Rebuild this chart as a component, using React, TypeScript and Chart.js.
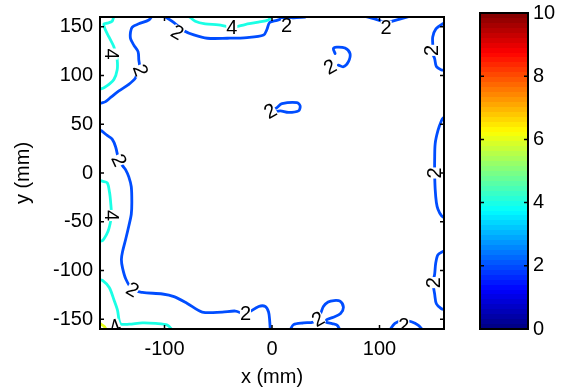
import React, { useEffect, useRef } from "react";
import { Chart, registerables } from "chart.js";

Chart.register(...registerables);

const FONT = "'Liberation Sans', Arial, Helvetica, sans-serif";

// ---- axes ----
const xRange = [-160, 160];
const yRange = [-160, 160];
const xTicks = [-100, 0, 100];
const yTicks = [-150, -100, -50, 0, 50, 100, 150];
const cbRange = [0, 10];
const cbTicks = [0, 2, 4, 6, 8, 10];
const xTitle = "x (mm)";
const yTitle = "y (mm)";

// ---- contour level 4 (cyan) ----
const c4TopLeftX = [-147.1, -148.7, -153.3, -156.3, -155.4, -151.7, -147.1, -145.5, -144.0, -144.0, -147.1, -151.7, -156.3, -158.5, -161];
const c4TopLeftY = [161, 155.7, 153.7, 153.0, 147.9, 139.6, 129.5, 122.8, 116.0, 106.0, 95.9, 90.9, 87.5, 86.5, 86];
const c4TopX = [-77.6, -71.4, -62.1, -49.8, -37.4, -25.0, -12.7, -3.4, -0.4];
const c4TopY = [161, 155.7, 153.0, 152.0, 149.6, 152.3, 154.7, 157.0, 161];
const c4LeftX = [-161, -157.9, -153.3, -151.1, -150.1, -149.4, -151.7, -154.2, -157.7, -161];
const c4LeftY = [-7.5, -8.4, -10.1, -20.1, -30.2, -43.6, -57.1, -63.7, -69.4, -70];
const c4BottomLeftX = [-161, -157.7, -151.4, -146.8, -143.7, -142.2, -140.5, -132.9, -120.5, -108.2, -97.3, -92.7];
const c4BottomLeftY = [-109.5, -110.2, -117.4, -130.8, -140.9, -151.0, -155.0, -155.0, -153.7, -154.3, -156.0, -161];

// ---- contour level 2 (blue) ----
const c2TopLeftX = [-111.6, -114.6, -123.9, -130.1, -131.6, -131.6, -128.5, -124.6, -123.9, -123.3, -127.0, -133.2, -142.4, -150.1, -154.8, -158.5, -161];
const c2TopLeftY = [161, 157.0, 153.0, 149.6, 144.6, 137.9, 131.1, 124.5, 116.0, 109.4, 97.6, 90.9, 84.2, 77.5, 73.2, 71.8, 71];
const c2TopX = [-100.5, -91.2, -81.9, -72.7, -60.2, -41.7, -23.2, -7.8, -4.6, -2.2, 4.6, 8.9, 18.2, 30.6, 32];
const c2TopY = [161, 154.3, 145.9, 141.6, 138.2, 138.2, 138.9, 141.6, 147.6, 154.3, 156.5, 158, 159, 160, 161];
const c2TopRightX = [85.5, 95.5, 103.0, 106.2, 110.0, 118.0, 129.4];
const c2TopRightY = [161, 158, 155, 151, 155, 157.5, 161];
const c2RightUpperX = [161, 158.8, 152.5, 149.5, 149.5, 148.3, 151.3, 152.9, 157.6, 161];
const c2RightUpperY = [153.5, 153, 147.9, 139.6, 129.5, 125.8, 117.4, 109.2, 105.7, 105.4];
const c2RightMidX = [161, 159.2, 157.6, 154.4, 151.8, 151.3, 151.3, 151.8, 152.9, 154.4, 157.6, 161];
const c2RightMidY = [57, 56.4, 53.6, 43.6, 30.2, 13.4, 0, -16.8, -30.2, -37.2, -43.8, -46.5];
const c2RightLowX = [161, 159.0, 154.4, 152.3, 151.3, 149.8, 151.3, 152.9, 157.6, 161];
const c2RightLowY = [-80, -80.5, -83.8, -92.3, -103.9, -112.4, -124.1, -134.1, -139.2, -140];
const c2IslandAX = [58.7, 57.1, 60.2, 67.9, 72.6, 71.0, 66.4, 61.7];
const c2IslandAY = [122.5, 127.5, 129.1, 128.1, 122.5, 114.0, 109.0, 110.7];
const c2IslandBX = [2.0, 4.6, 9.3, 23.2, 26.2, 24.7, 15.4, 7.7, 3.0];
const c2IslandBY = [65.5, 67.1, 71.1, 72.2, 68.7, 63.7, 62.1, 63.7, 63.0];
const c2LeftBottomX = [-161, -158.7, -153.3, -148.7, -145.5, -142.4, -138.7, -136.0, -133.2, -130.9, -130.4, -130.9, -133.2, -136.0, -139.0, -140.1, -139.0, -136.0, -129.7, -120.5, -101.9, -91.2, -78.8, -64.9, -46.3, -34.0, -24.7, -12.4, -6.2, -3.2, -2.2, -1.6];
const c2LeftBottomY = [44, 43.3, 38.5, 34.7, 26.9, 13.1, 7.0, 3.0, -4.0, -14.1, -30.2, -42.3, -54.3, -67.4, -80.5, -88.6, -97.6, -108.7, -119.7, -122.5, -124.1, -126.8, -133.8, -142.6, -142.6, -141.6, -144.4, -136.9, -136.9, -142.6, -150.9, -161];
const c2BottomX = [17.0, 20.0, 29.3, 38.6, 44.8, 47.8, 52.2, 57.7, 63.3, 66.4, 63.8, 57.1, 51.0, 50.3, 55.9, 60.5, 63.3];
const c2BottomY = [-161, -155.5, -153.7, -152.7, -144.9, -136.9, -132.3, -130.8, -131.5, -137.6, -144.2, -147.9, -150.4, -153.0, -154.5, -156.0, -161];
const c2BottomRightX = [109.6, 114.3, 122.0, 129.7, 135.9, 140.2];
const c2BottomRightY = [-161, -154.3, -150.9, -152.6, -156.0, -161];

// ---- contour level 6 (yellow) ----
const c6CornerX = [-161, -158.5, -156, -154];
const c6CornerY = [-154, -155.5, -157.5, -161];

// ---- contour labels ----
const labelText = ["4", "4", "4", "4", "2", "2", "2", "2", "2", "2", "2", "2", "2", "2", "2", "2", "2", "2"];
const labelX = [-149.5, -37.4, -149.4, -146.0, -122.3, -88.0, 13.5, 106.2, 148.3, 151.3, 149.8, 54.0, -1.6, -142.4, -129.7, -24.7, 42.9, 122.6];
const labelY = [122.0, 149.6, -43.6, -157.5, 105.3, 144.2, 151.2, 149.6, 125.8, 0, -112.4, 109.0, 63.4, 13.1, -119.7, -144.4, -149.9, -156.0];
const labelAngle = [90, 0, 90, -20, 70, 30, 0, 0, -90, -90, -90, -30, -30, 65, 30, 0, -30, 0];

const contours = [
  { level: 4, x: c4TopLeftX, y: c4TopLeftY },
  { level: 4, x: c4TopX, y: c4TopY },
  { level: 4, x: c4LeftX, y: c4LeftY },
  { level: 4, x: c4BottomLeftX, y: c4BottomLeftY },
  { level: 2, x: c2TopLeftX, y: c2TopLeftY },
  { level: 2, x: c2TopX, y: c2TopY },
  { level: 2, x: c2TopRightX, y: c2TopRightY },
  { level: 2, x: c2RightUpperX, y: c2RightUpperY },
  { level: 2, x: c2RightMidX, y: c2RightMidY },
  { level: 2, x: c2RightLowX, y: c2RightLowY },
  { level: 2, x: c2IslandAX, y: c2IslandAY },
  { level: 2, x: c2IslandBX, y: c2IslandBY },
  { level: 2, x: c2LeftBottomX, y: c2LeftBottomY },
  { level: 2, x: c2BottomX, y: c2BottomY },
  { level: 2, x: c2BottomRightX, y: c2BottomRightY },
  { level: 6, x: c6CornerX, y: c6CornerY },
];

function jet(t: number): string {
  const c = (v: number) => Math.round(255 * Math.max(0, Math.min(1, v)));
  return `rgb(${c(1.5 - Math.abs(4 * t - 3))},${c(1.5 - Math.abs(4 * t - 2))},${c(1.5 - Math.abs(4 * t - 1))})`;
}

function levelColor(level: number): string {
  return jet((level - cbRange[0]) / (cbRange[1] - cbRange[0]));
}

function jetGradient(chart: any) {
  const a = chart.chartArea;
  if (!a) return jet(0.5);
  const ys = chart.scales.y;
  const g = chart.ctx.createLinearGradient(0, ys.getPixelForValue(cbRange[0]), 0, ys.getPixelForValue(cbRange[1]));
  const n = 64;
  for (let i = 0; i < n; i++) {
    const col = jet((i + 0.5) / n);
    g.addColorStop(i / n, col);
    g.addColorStop((i + 1) / n - 0.0001, col);
  }
  return g;
}

const tickFont = { family: FONT, size: 20, lineHeight: 1 };
const titleFont = { family: FONT, size: 20, lineHeight: 1.2 };

const mainFramePlugin = {
  id: "mainFrame",
  afterDraw(chart: any) {
    const { ctx, chartArea: a, scales } = chart;
    ctx.save();
    ctx.strokeStyle = "#000";
    ctx.lineWidth = 2;
    ctx.strokeRect(a.left, a.top, a.right - a.left, a.bottom - a.top);
    ctx.lineWidth = 1.5;
    const L = 4;
    ctx.beginPath();
    xTicks.forEach((v) => {
      const p = scales.x.getPixelForValue(v);
      ctx.moveTo(p, a.bottom);
      ctx.lineTo(p, a.bottom - L);
      ctx.moveTo(p, a.top);
      ctx.lineTo(p, a.top + L);
    });
    yTicks.forEach((v) => {
      const p = scales.y.getPixelForValue(v);
      ctx.moveTo(a.left, p);
      ctx.lineTo(a.left + L, p);
      ctx.moveTo(a.right, p);
      ctx.lineTo(a.right - L, p);
    });
    ctx.stroke();
    ctx.restore();
  },
};

const labelPlugin = {
  id: "clabels",
  afterDatasetsDraw(chart: any) {
    const { ctx, chartArea: a, scales } = chart;
    ctx.save();
    ctx.beginPath();
    ctx.rect(a.left, a.top, a.right - a.left, a.bottom - a.top);
    ctx.clip();
    ctx.font = `20px ${FONT}`;
    ctx.textAlign = "center";
    ctx.textBaseline = "middle";
    labelText.forEach((t, i) => {
      const px = scales.x.getPixelForValue(labelX[i]);
      const py = scales.y.getPixelForValue(labelY[i]);
      ctx.save();
      ctx.translate(px, py);
      ctx.rotate((labelAngle[i] * Math.PI) / 180);
      const w = ctx.measureText(t).width;
      ctx.fillStyle = "#fff";
      ctx.fillRect(-w / 2, -6.5, w, 13);
      ctx.fillStyle = "#000";
      ctx.fillText(t, 0, 1);
      ctx.restore();
    });
    ctx.restore();
  },
};

const cbFramePlugin = {
  id: "cbFrame",
  afterDraw(chart: any) {
    const { ctx, chartArea: a, scales } = chart;
    ctx.save();
    ctx.strokeStyle = "#000";
    ctx.lineWidth = 2;
    ctx.strokeRect(a.left, a.top, a.right - a.left, a.bottom - a.top);
    ctx.lineWidth = 1.5;
    const L = 4;
    ctx.beginPath();
    cbTicks.forEach((v) => {
      const p = scales.y.getPixelForValue(v);
      ctx.moveTo(a.left, p);
      ctx.lineTo(a.left + L, p);
      ctx.moveTo(a.right, p);
      ctx.lineTo(a.right - L, p);
    });
    ctx.stroke();
    ctx.restore();
  },
};

export default function App() {
  const mainRef = useRef<HTMLCanvasElement>(null);
  const cbRef = useRef<HTMLCanvasElement>(null);

  useEffect(() => {
    const datasets = contours.map((c) => ({
      data: c.x.map((v, i) => ({ x: v, y: c.y[i] })),
      showLine: true,
      borderColor: levelColor(c.level),
      backgroundColor: levelColor(c.level),
      borderWidth: 2.8,
      pointRadius: 0,
      tension: 0.3,
      fill: false,
      clip: 0,
      borderCapStyle: "round",
      borderJoinStyle: "round",
    }));

    const main = new Chart(mainRef.current as HTMLCanvasElement, {
      type: "scatter",
      data: { datasets: datasets as any },
      options: {
        animation: false,
        responsive: false,
        events: [],
        layout: { padding: { left: 0, right: 123, top: 11, bottom: 0 } },
        plugins: { legend: { display: false }, tooltip: { enabled: false } },
        scales: {
          x: {
            type: "linear",
            min: xRange[0],
            max: xRange[1],
            afterBuildTicks: (s: any) => {
              s.ticks = xTicks.map((v) => ({ value: v }));
            },
            afterFit: (s: any) => {
              s.height = 62;
            },
            grid: { display: false, drawTicks: false },
            border: { display: false },
            ticks: { font: tickFont, color: "#000", padding: 10, maxRotation: 0, autoSkip: false },
            title: { display: true, text: xTitle, font: titleFont, color: "#000", padding: { top: 0, bottom: 2 } },
          },
          y: {
            type: "linear",
            min: yRange[0],
            max: yRange[1],
            afterBuildTicks: (s: any) => {
              s.ticks = yTicks.map((v) => ({ value: v }));
            },
            afterFit: (s: any) => {
              s.width = 100;
            },
            grid: { display: false, drawTicks: false },
            border: { display: false },
            ticks: { font: tickFont, color: "#000", padding: 7, autoSkip: false },
            title: { display: true, text: yTitle, font: titleFont, color: "#000", padding: { top: 11, bottom: 0 } },
          },
        },
      } as any,
      plugins: [labelPlugin, mainFramePlugin],
    });

    const cb = new Chart(cbRef.current as HTMLCanvasElement, {
      type: "bar",
      data: {
        labels: ["colorbar"],
        datasets: [
          {
            data: [[cbRange[0], cbRange[1]]] as any,
            backgroundColor: (ctx: any) => jetGradient(ctx.chart),
            borderWidth: 0,
            barPercentage: 1,
            categoryPercentage: 1,
          },
        ],
      },
      options: {
        animation: false,
        responsive: false,
        events: [],
        layout: { padding: { left: 480, right: 0, top: 9, bottom: 62 } },
        plugins: { legend: { display: false }, tooltip: { enabled: false } },
        scales: {
          x: { display: false },
          y: {
            position: "right",
            min: cbRange[0],
            max: cbRange[1],
            afterBuildTicks: (s: any) => {
              s.ticks = cbTicks.map((v) => ({ value: v }));
            },
            afterFit: (s: any) => {
              s.width = 39;
            },
            grid: { display: false, drawTicks: false },
            border: { display: false },
            ticks: { font: { family: FONT, size: 20, lineHeight: 0.8 }, color: "#000", padding: 5 },
          },
        },
      } as any,
      plugins: [cbFramePlugin],
    });

    return () => {
      main.destroy();
      cb.destroy();
    };
  }, []);

  return (
    <div style={{ position: "fixed", left: 0, top: 0, width: 567, height: 391, background: "#fff" }}>
      <canvas ref={mainRef} width={567} height={391} style={{ position: "absolute", left: 0, top: 0 }} />
      <canvas ref={cbRef} width={567} height={391} style={{ position: "absolute", left: 0, top: 0 }} />
    </div>
  );
}
